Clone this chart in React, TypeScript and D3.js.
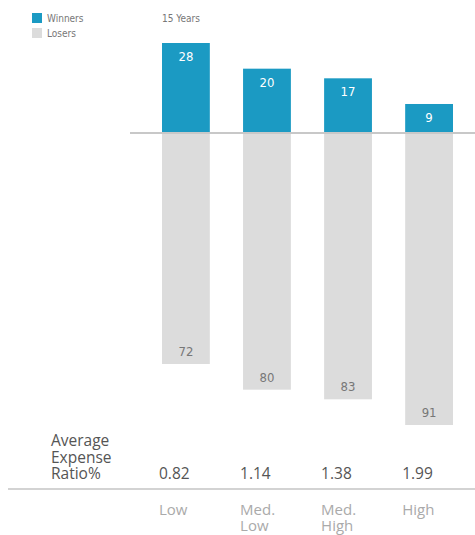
import React from "react";
import * as d3 from "d3";

const categories = ["Low", "Med. Low", "Med. High", "High"];
const categoryLines = [["Low"], ["Med.", "Low"], ["Med.", "High"], ["High"]];
const winners = [28, 20, 17, 9];
const losers = [72, 80, 83, 91];
const expenseRatios = ["0.82", "1.14", "1.38", "1.99"];
const legendLabels = ["Winners", "Losers"];
const periodLabel = "15 Years";
const rowLabel = ["Average", "Expense", "Ratio%"];

const W = 475;
const H = 535;
const TEAL = "#1b9ac3";
const GRAY = "#dcdcdc";
const NARROW = "'DejaVu Sans Condensed', 'Liberation Sans Narrow', sans-serif";
const SANS = "'Open Sans', Lato, sans-serif";

export default function App() {
  const x = d3.scaleBand<string>().domain(categories).range([162, 453]).paddingInner(0.41).paddingOuter(0);
  const y = d3.scaleLinear().domain([-91, 28]).range([425, 43]);
  const bw = x.bandwidth();
  const y0 = y(0);

  return (
    <svg width={W} height={H} style={{ position: "absolute", left: 0, top: 0, background: "#fff" }}>
      {/* legend */}
      {legendLabels.map((l, i) => (
        <g key={l} transform={`translate(32,${13 + i * 15})`}>
          <rect width={10} height={10} fill={i === 0 ? TEAL : GRAY} />
          <text x={15} y={9} fontFamily={NARROW} fontSize={10} fill="#777" fontStretch="condensed">{l}</text>
        </g>
      ))}
      <text x={162} y={22} fontFamily={NARROW} fontSize={10} fill="#777" fontStretch="condensed">{periodLabel}</text>

      {/* losers */}
      {categories.map((c, i) => (
        <g key={"l" + c}>
          <rect x={x(c)} y={y0 + 1} width={bw} height={y(-losers[i]) - y0 - 1} fill={GRAY} />
          <text x={(x(c) as number) + bw / 2} y={y(-losers[i]) - 8} textAnchor="middle" fontFamily={NARROW} fontStretch="condensed" fontSize={13} fill="#777">{losers[i]}</text>
        </g>
      ))}
      {/* winners */}
      {categories.map((c, i) => (
        <g key={"w" + c}>
          <rect x={x(c)} y={y(winners[i])} width={bw} height={y0 - y(winners[i])} fill={TEAL} />
          <text x={(x(c) as number) + bw / 2} y={y(winners[i]) + 18} textAnchor="middle" fontFamily={NARROW} fontStretch="condensed" fontSize={13} fill="#fff">{winners[i]}</text>
        </g>
      ))}
      <line x1={130} x2={W} y1={y0} y2={y0} stroke="#c8c8c8" strokeWidth={2} />

      {/* expense ratio row */}
      {rowLabel.map((t, i) => (
        <text key={t} x={51} y={446 + i * 16.5} fontFamily={SANS} fontSize={15.5} fill="#555">{t}</text>
      ))}
      {categories.map((c, i) => (
        <text key={"e" + c} x={(x(c) as number) - 3} y={479} fontFamily={SANS} fontSize={15.5} fill="#555">{expenseRatios[i]}</text>
      ))}
      <line x1={8} x2={W} y1={489} y2={489} stroke="#c4c4c4" strokeWidth={1.5} />
      {categories.map((c, i) => (
        <text key={"c" + c} x={(x(c) as number) - 3} y={515} fontFamily={SANS} fontSize={15} fill="#aaa">
          {categoryLines[i].map((ln, j) => (
            <tspan key={j} x={(x(c) as number) - 3} dy={j === 0 ? 0 : 16}>{ln}</tspan>
          ))}
        </text>
      ))}
    </svg>
  );
}
